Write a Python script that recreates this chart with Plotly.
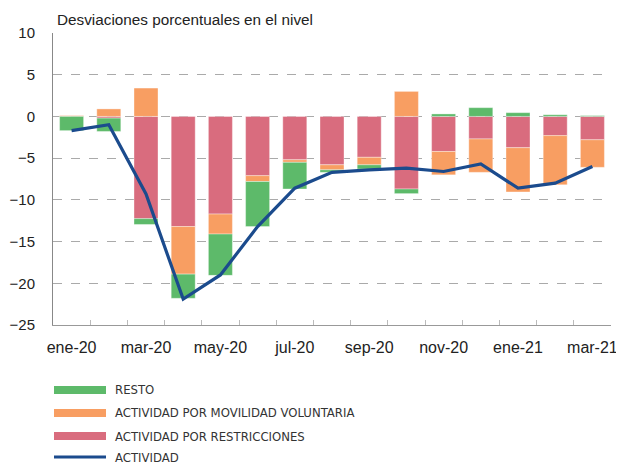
import plotly.graph_objects as go

months = ["ene-20", "feb-20", "mar-20", "abr-20", "may-20", "jun-20", "jul-20",
          "ago-20", "sep-20", "oct-20", "nov-20", "dic-20", "ene-21", "feb-21", "mar-21"]
restricciones = [0.0, -0.2, -12.25, -13.2, -11.7, -7.1, -5.2, -5.8, -4.9, -8.7, -4.2, -2.7, -3.75, -2.3, -2.8]
movilidad = [0.1, 0.9, 3.4, -5.7, -2.4, -0.7, -0.3, -0.6, -0.9, 3.0, -2.8, -4.0, -5.3, -5.9, -3.3]
resto = [-1.7, -1.6, -0.7, -2.9, -4.95, -5.4, -3.2, -0.3, -0.5, -0.55, 0.3, 1.05, 0.45, 0.2, 0.1]
actividad = [-1.7, -1.0, -9.3, -21.9, -19.0, -13.2, -8.6, -6.7, -6.4, -6.2, -6.6, -5.7, -8.6, -8.0, -6.0]
tick_text = [m if i % 2 == 0 else "" for i, m in enumerate(months)]
legend_labels = ["RESTO", "ACTIVIDAD POR MOVILIDAD VOLUNTARIA", "ACTIVIDAD POR RESTRICCIONES", "ACTIVIDAD"]

C_RED = "#d96c7e"
C_ORANGE = "#f89e62"
C_GREEN = "#5dba6a"
C_BLUE = "#1b4b8d"

fig = go.Figure()
edge = dict(width=0.8, color="rgba(255,255,255,0.45)")
fig.add_trace(go.Bar(x=months, y=restricciones, marker=dict(color=C_RED, line=edge), showlegend=False))
fig.add_trace(go.Bar(x=months, y=movilidad, marker=dict(color=C_ORANGE, line=edge), showlegend=False))
fig.add_trace(go.Bar(x=months, y=resto, marker=dict(color=C_GREEN, line=edge), showlegend=False))
fig.add_trace(go.Scatter(x=months, y=actividad, mode="lines",
                         line=dict(color=C_BLUE, width=3.2), showlegend=False))

font_main = "Liberation Sans, Arial, sans-serif"
font_leg = "Liberation Sans Narrow, DejaVu Sans Condensed, Arial Narrow, sans-serif"

# the page body has an 8px margin, so the figure is drawn 8px in from the top-left
fig.update_layout(
    width=616, height=456,
    margin=dict(l=45.4, r=12.6, t=25.2, b=138.6),
    barmode="relative", bargap=0.355,
    plot_bgcolor="white", paper_bgcolor="white",
    font=dict(family=font_main, size=14, color="#222"),
    xaxis=dict(type="category", tickvals=months, ticktext=tick_text, tickangle=0,
               tickson="boundaries", ticks="inside", ticklen=5, tickcolor="#bbb",
               showgrid=False, showline=True, linecolor="#999", linewidth=1,
               ticklabelstandoff=8, tickfont=dict(size=16), automargin=False),
    yaxis=dict(range=[-25, 10], dtick=5, tick0=0, showgrid=True, gridcolor="#aaa",
               griddash="dash", gridwidth=1, zeroline=False, showline=True,
               linecolor="#888", linewidth=1, ticks="", ticklabelstandoff=14,
               tickfont=dict(size=15), automargin=False),
)

fig.add_annotation(text="Desviaciones porcentuales en el nivel", xref="paper", yref="paper",
                   x=0.003, y=1.0, yshift=14, xanchor="left", yanchor="middle",
                   showarrow=False, font=dict(size=15.3, color="#222", family=font_main))

# manual legend (positions in screen px, converted relative to plot area 53..611 x 33..325)
rows_y = [390, 413, 436, 457]
colors = [C_GREEN, C_ORANGE, C_RED, C_BLUE]
thick = [8, 8, 8, 3]
for lab, yy, col, th in zip(legend_labels, rows_y, colors, thick):
    fig.add_shape(type="rect", xref="paper", yref="paper",
                  x0=(54 - 53) / 558, x1=(106 - 53) / 558,
                  y0=(325 - yy - th / 2) / 292, y1=(325 - yy + th / 2) / 292,
                  fillcolor=col, line=dict(width=0))
    fig.add_annotation(text=lab, xref="paper", yref="paper",
                       x=(113 - 53) / 558, y=(325 - yy) / 292,
                       xanchor="left", yanchor="middle", showarrow=False,
                       font=dict(size=13, color="#333", family=font_leg))

fig.write_html("out.html")
